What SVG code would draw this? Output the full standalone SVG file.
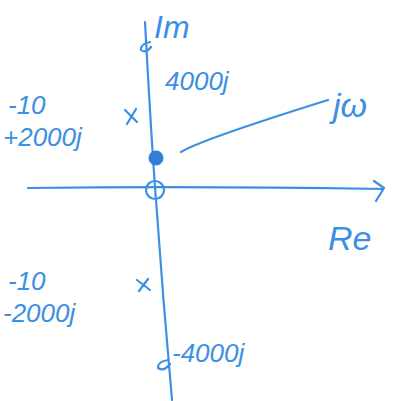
<svg xmlns="http://www.w3.org/2000/svg" width="398" height="401" viewBox="0 0 398 401">
<style>
.s{fill:none;stroke:#3d8fe3;stroke-width:2.2;stroke-linecap:round;stroke-linejoin:round}
.t{fill:#3d8fe3;font-family:"Liberation Sans",sans-serif;font-style:italic}
</style>
<rect width="398" height="401" fill="#fff"/>
<g id="axes" class="s">
<path d="M145,22 Q152,150 156,200 Q163,300 172,400"/>
<path d="M28,188 Q200,186 383,189"/>
<path d="M374,181 L384,188 L376,201"/>
</g>
<g id="origin"><circle cx="155" cy="190" r="9" class="s"/></g>
<g id="zero"><circle cx="156" cy="158" r="6.5" fill="#2f7fd8" stroke="#2f7fd8" stroke-width="2"/></g>
<g id="pole-top" class="s"><path d="M125,110 L137,122 M136,109 L127,124"/></g>
<g id="pole-bottom" class="s"><path d="M137,280 L150,290 M148,279 L139,291"/></g>
<g id="mark-top" class="s"><path d="M150,42 Q140,44 141,50 Q146,54 151,47"/></g>
<g id="mark-bottom" class="s"><path d="M168,360 Q157,362 158,368 Q164,372 170,364"/></g>
<g id="connectors" class="s"><path d="M181,152 Q200,140 328,100"/></g>
<text class="t" x="154" y="38" font-size="32">Im</text>
<text class="t" x="165" y="90" font-size="26">4000j</text>
<text class="t" x="8" y="114" font-size="26">-10</text>
<text class="t" x="3" y="146" font-size="26">+2000j</text>
<text class="t" x="333" y="117" font-size="34">jω</text>
<text class="t" x="328" y="250" font-size="34">Re</text>
<text class="t" x="8" y="290" font-size="26">-10</text>
<text class="t" x="3" y="322" font-size="26">-2000j</text>
<text class="t" x="172" y="362" font-size="26">-4000j</text>
</svg>
